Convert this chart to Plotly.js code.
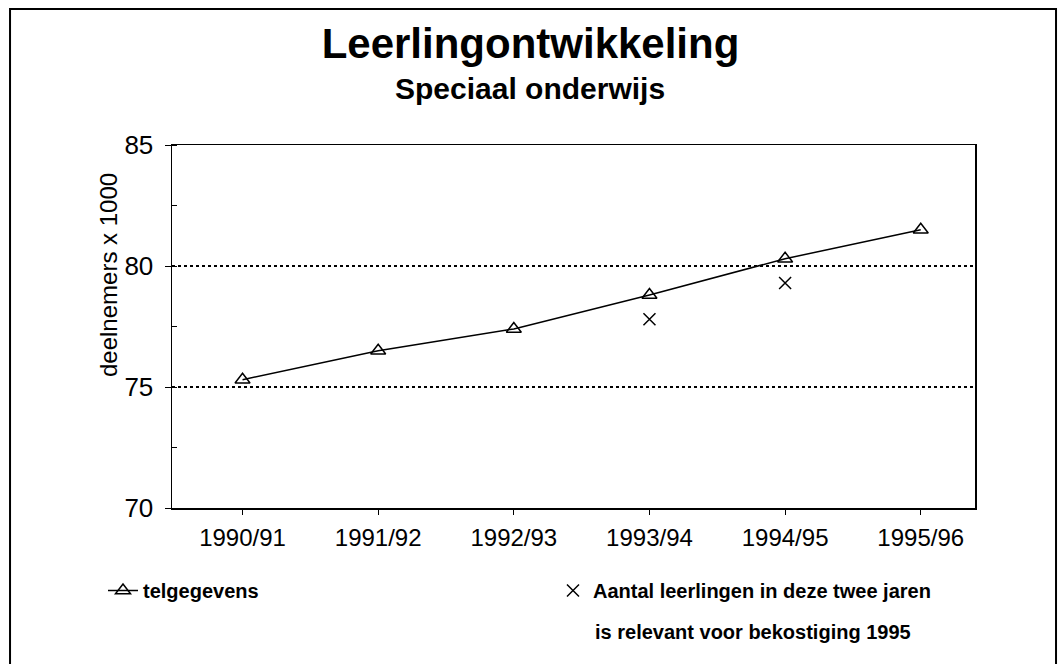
<!DOCTYPE html>
<html>
<head>
<meta charset="utf-8">
<script src="https://cdn.plot.ly/plotly-3.0.1.min.js"></script>
<style>html,body{margin:0;padding:0;background:#fff;}#chart{width:1061px;height:664px;}</style>
</head>
<body>
<div id="chart"></div>
<script>
// Data
const categories = ["1990/91", "1991/92", "1992/93", "1993/94", "1994/95", "1995/96"];
const telgegevens = [75.3, 76.5, 77.4, 78.8, 80.3, 81.5];
const relevantCats = ["1993/94", "1994/95"];
const relevantValues = [77.8, 79.3];
const yTicks = [70, 75, 80, 85];

const FONT = "Liberation Sans, Arial, sans-serif";

const traces = [
  {
    type: "scatter",
    mode: "lines+markers",
    name: "<b>telgegevens</b>",
    x: categories,
    y: telgegevens,
    line: {color: "#000", width: 1.5},
    marker: {symbol: "triangle-up-open", size: 13, color: "#000", line: {width: 1.5, color: "#000"}}
  },
  {
    type: "scatter",
    mode: "markers",
    name: "<b>Aantal leerlingen in deze twee jaren</b>",
    x: relevantCats,
    y: relevantValues,
    marker: {symbol: "x-thin-open", size: 12, color: "#000", line: {width: 1.5, color: "#000"}}
  }
];

const layout = {
  width: 1061,
  height: 664,
  margin: {l: 172, r: 86, t: 145, b: 156, autoexpand: false},
  paper_bgcolor: "#fff",
  plot_bgcolor: "#fff",
  font: {family: FONT, color: "#000"},
  title: {
    text: "<b>Leerlingontwikkeling</b>",
    font: {family: FONT, size: 42, color: "#000"},
    x: 0.5, xref: "container", xanchor: "center",
    y: 0.935, yref: "container", yanchor: "middle"
  },
  annotations: [
    {
      text: "<b>Speciaal onderwijs</b>",
      xref: "paper", yref: "paper", x: 0.446, y: 1.155,
      xanchor: "center", yanchor: "middle", showarrow: false,
      font: {family: FONT, size: 30, color: "#000"}
    },
    {
      text: "deelnemers x 1000",
      xref: "paper", yref: "paper", x: (108 - 172) / 803, y: (508 - 275) / 363,
      xanchor: "center", yanchor: "middle", showarrow: false, textangle: -90,
      font: {family: FONT, size: 24, color: "#000"}
    },
    {
      text: "<b>is relevant voor bekostiging 1995</b>",
      xref: "paper", yref: "paper", x: (593 - 172) / 803, y: (508 - 632) / 363,
      xanchor: "left", yanchor: "middle", showarrow: false,
      font: {family: FONT, size: 20, color: "#000"}
    }
  ],
  xaxis: {
    type: "category",
    categoryorder: "array",
    categoryarray: categories,
    range: [-0.52, 5.4],
    showline: true, linecolor: "#000", linewidth: 1.5, mirror: true,
    ticks: "outside", ticklen: 5, tickcolor: "#000", tickwidth: 1,
    showgrid: false, zeroline: false,
    tickfont: {family: FONT, size: 24, color: "#000"},
    ticklabelstandoff: 3
  },
  yaxis: {
    range: [70, 85],
    tickvals: yTicks,
    ticktext: yTicks.map(String),
    showline: true, linecolor: "#000", linewidth: 1.5, mirror: true,
    ticks: "outside", ticklen: 6, tickcolor: "#000", tickwidth: 1,
    minor: {dtick: 2.5, tick0: 70, ticks: "inside", ticklen: 5, tickcolor: "#000", showgrid: false},
    showgrid: true, gridcolor: "#000", gridwidth: 1.5, griddash: "dot",
    zeroline: false,
    tickfont: {family: FONT, size: 26, color: "#000"},
    ticklabelstandoff: 6
  },
  showlegend: true,
  legend: {
    orientation: "h",
    xref: "paper", yref: "paper",
    x: (103 - 172) / 803, xanchor: "left",
    y: (508 - 571) / 363, yanchor: "top",
    entrywidth: 405, entrywidthmode: "pixels",
    font: {family: FONT, size: 20, color: "#000"},
    bgcolor: "rgba(0,0,0,0)"
  },
  shapes: [
    {
      type: "path", xref: "paper", yref: "paper",
      path: "M -0.2017,-0.5 L -0.2017,1.3747 L 1.1009,1.3747 L 1.1009,-0.5",
      line: {color: "#000", width: 2}
    }
  ]
};

Plotly.newPlot("chart", traces, layout, {displayModeBar: false, staticPlot: true});
</script>
</body>
</html>
